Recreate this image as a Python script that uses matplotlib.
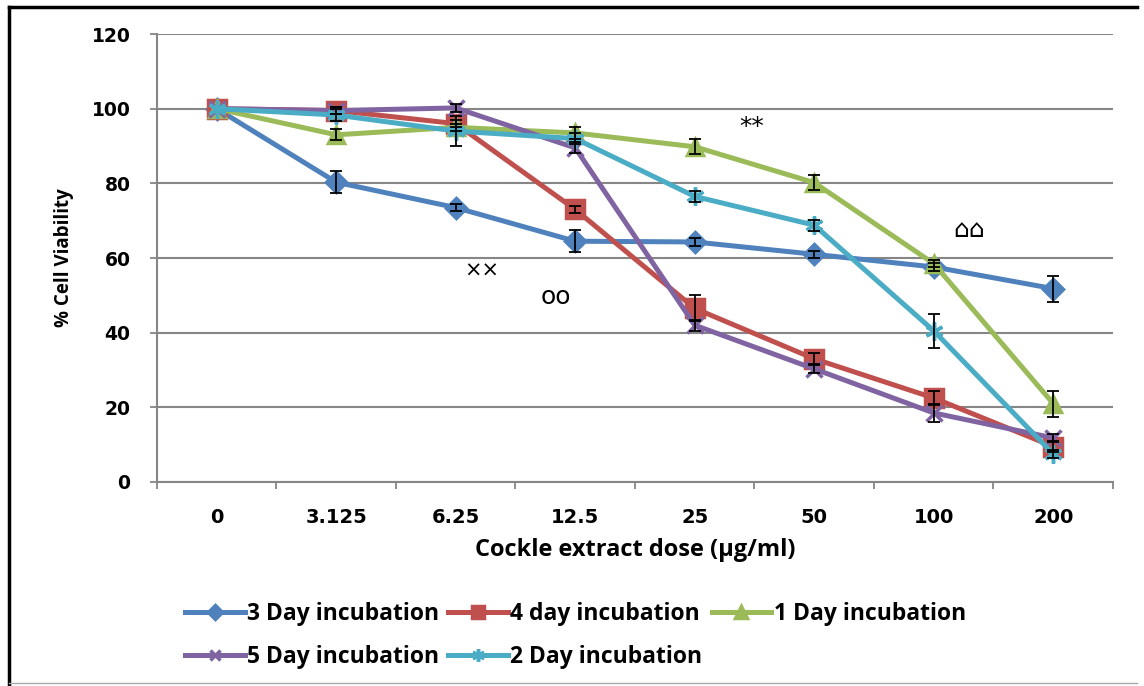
import matplotlib.pyplot as plt
from matplotlib.lines import Line2D
import numpy as np

# Doses (µg/ml) shown as evenly spaced categories
doses = ["0", "3.125", "6.25", "12.5", "25", "50", "100", "200"]

# % cell viability (mean) and error for each incubation period
day3 = [100, 80.3, 73.5, 64.5, 64.3, 61.0, 57.6, 51.8]
day3_err = [0, 3, 1, 3, 1, 1, 1, 3.5]
day4 = [100, 99.5, 96, 73, 46.5, 33, 22.5, 9.5]
day4_err = [0, 1, 1, 1, 3.5, 1.5, 2, 1.5]
day1 = [100, 93, 95, 93.5, 89.8, 80.2, 58.5, 21]
day1_err = [0, 1.5, 1, 1.5, 2, 2, 1, 3.5]
day5 = [100, 99.5, 100.2, 89.5, 42, 30.3, 18.5, 11.8]
day5_err = [0, 1, 1, 1.5, 1.5, 1, 2.5, 1]
day2 = [100, 98.3, 94, 92, 76.5, 68.8, 40.5, 7.5]
day2_err = [0, 1.5, 4, 1.5, 1.5, 1.5, 4.5, 1]

series = [
    ("3 Day incubation", day3, day3_err, "#4F81BD", "D", 10),
    ("4 day incubation", day4, day4_err, "#C0504D", "s", 13),
    ("1 Day incubation", day1, day1_err, "#9BBB59", "^", 12),
    ("5 Day incubation", day5, day5_err, "#8064A2", "x", 11),
    ("2 Day incubation", day2, day2_err, "#4BACC6", (6, 2, 0), 13),
]

# significance marks: (text, category position, y, size)
marks = [("××", 2.22, 56.5, 15), ("oo", 2.84, 49.5, 18),
         ("**", 4.48, 95.0, 18), ("⌂⌂", 6.30, 67.5, 18)]

plt.rcParams["font.family"] = ["Open Sans", "DejaVu Sans"]

fig = plt.figure(figsize=(11.44, 6.86), dpi=100)
ax = fig.add_axes([0.1372, 0.2974, 0.8357, 0.653])

x = np.arange(len(doses))
handles = {}
for name, vals, err, color, marker, ms in series:
    line, = ax.plot(x, vals, color=color, lw=3.6, marker=marker, ms=ms,
                    mfc=color, mec=color, mew=2.5, zorder=3, label=name)
    handles[name] = line
    ax.errorbar(x[1:], vals[1:], yerr=err[1:], fmt="none", ecolor="black",
                elinewidth=1.3, capsize=4, capthick=1.3, zorder=4)

for txt, xp, yp, fs in marks:
    ax.text(xp, yp, txt, fontsize=fs, family="DejaVu Sans",
            ha="center", va="center", color="black")

ax.set_xlim(-0.5, len(doses) - 0.5)
ax.set_ylim(0, 120)
ax.set_yticks(range(0, 121, 20))
ax.set_xticks(x)
ax.set_xticklabels(doses)
ax.set_xticks(np.arange(-0.5, len(doses), 1), minor=True)
ax.tick_params(axis="x", which="major", length=0, pad=19)
ax.tick_params(axis="x", which="minor", length=5, width=1.3, color="#868686")
ax.tick_params(axis="y", length=5, width=1.3, color="#868686", pad=14)
for lbl in ax.get_xticklabels():
    lbl.set_fontproperties({"family": "DejaVu Sans", "weight": "bold", "size": 14})
for lbl in ax.get_yticklabels():
    lbl.set_fontproperties({"family": "DejaVu Sans", "weight": "bold", "size": 13.5})

ax.grid(axis="y", color="#868686", lw=1.5)
ax.set_axisbelow(True)
for s in ["top", "right"]:
    ax.spines[s].set_visible(False)
for s in ["left", "bottom"]:
    ax.spines[s].set_color("#868686")
    ax.spines[s].set_linewidth(1.5)

ax.set_ylabel("% Cell Viability", fontsize=13.5, fontweight="bold", labelpad=13)
ax.set_xlabel("Cockle extract dose (µg/ml)", fontsize=17, fontweight="bold", labelpad=8)

# column-major legend fill gives rows: 3,4,1 / 5,2
order = ["3 Day incubation", "5 Day incubation", "4 day incubation",
         "2 Day incubation", "1 Day incubation"]
leg = fig.legend([handles[n] for n in order], order, ncol=3,
                 loc="upper left", bbox_to_anchor=(0.162, 0.123),
                 frameon=False, fontsize=16.5, handlelength=2.6,
                 handletextpad=0.1, columnspacing=0.4, labelspacing=0.85,
                 borderaxespad=0, borderpad=0, markerscale=0.7)
for t in leg.get_texts():
    t.set_fontweight("bold")

# outer frame
fig.add_artist(Line2D([0.008, 0.008], [0.003, 0.99], color="black", lw=2.5,
                      transform=fig.transFigure))
fig.add_artist(Line2D([0.008, 0.994], [0.99, 0.99], color="black", lw=2.5,
                      transform=fig.transFigure))
fig.add_artist(Line2D([0.008, 0.994], [0.004, 0.004], color="#aaaaaa", lw=1,
                      transform=fig.transFigure))

fig.savefig("out.png", dpi=100)
